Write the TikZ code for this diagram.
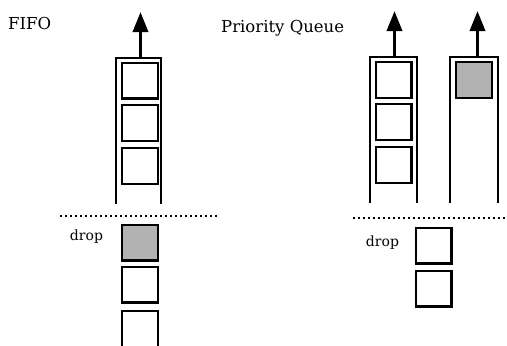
\documentclass[tikz,border=0pt]{standalone}
\usepackage{fontspec}
\setmainfont{DejaVu Serif}
\usetikzlibrary{arrows.meta}
\begin{document}
\begin{tikzpicture}[x=1pt,y=-1pt,
  packet/.style={draw,line width=2.4pt,minimum width=35.6pt,minimum height=35.6pt,inner sep=0pt},
  marked/.style={packet,fill=black!30},
  tube/.style={line width=2pt},
  outarrow/.style={line width=3.4pt,-{Triangle[length=20pt,width=15pt]}},
  dropline/.style={line width=2.2pt,dash pattern=on 2.2pt off 2.8pt},
  title/.style={font=\fontsize{16.5}{19}\selectfont,inner sep=0pt,anchor=west},
  droplabel/.style={font=\fontsize{14}{16}\selectfont,inner sep=0pt}]
\clip (0,0) rectangle (507,346);

% titles
\node[title] (tfifo) at (8,23) {FIFO};
\node[title] (tpq) at (221,28) {Priority Queue};

% FIFO queue
\draw[tube] (116,204) -- (116,58) -- (161,58) -- (161,204);
\coordinate (fout) at (140.5,58);
\coordinate (ftip) at (140.5,12);
\draw[outarrow] (fout) -- (ftip);
\node[packet] (f1) at (140,80.5) {};
\node[packet] (f2) at (140,123) {};
\node[packet] (f3) at (140,166) {};

% FIFO drops
\coordinate (fdl) at (60,216);
\coordinate (fdr) at (217,216);
\draw[dropline] (fdl) -- (fdr);
\node[droplabel] (fdrop) at (86.5,237) {drop};
\node[marked] (fd1) at (140,242.5) {};
\node[packet] (fd2) at (140,284.5) {};
\node[packet] (fd3) at (140,329) {};

% priority queue, low class
\draw[tube] (370,203) -- (370,57) -- (417,57) -- (417,203);
\coordinate (p1out) at (394.5,57);
\coordinate (p1tip) at (394.5,11);
\draw[outarrow] (p1out) -- (p1tip);
\node[packet] (p1) at (393.5,80) {};
\node[packet] (p2) at (393.5,122) {};
\node[packet] (p3) at (393.5,165) {};

% priority queue, high class
\draw[tube] (450,203) -- (450,57) -- (498,57) -- (498,203);
\coordinate (p2out) at (477.5,57);
\coordinate (p2tip) at (477.5,11);
\draw[outarrow] (p2out) -- (p2tip);
\node[marked] (h1) at (474,80) {};

% priority queue drops
\coordinate (pdl) at (353,218);
\coordinate (pdr) at (510,218);
\draw[dropline] (pdl) -- (pdr);
\node[droplabel] (pdrop) at (382.5,243) {drop};
\node[packet] (pd1) at (433.5,245.5) {};
\node[packet] (pd2) at (433.5,288.5) {};
\end{tikzpicture}
\end{document}
